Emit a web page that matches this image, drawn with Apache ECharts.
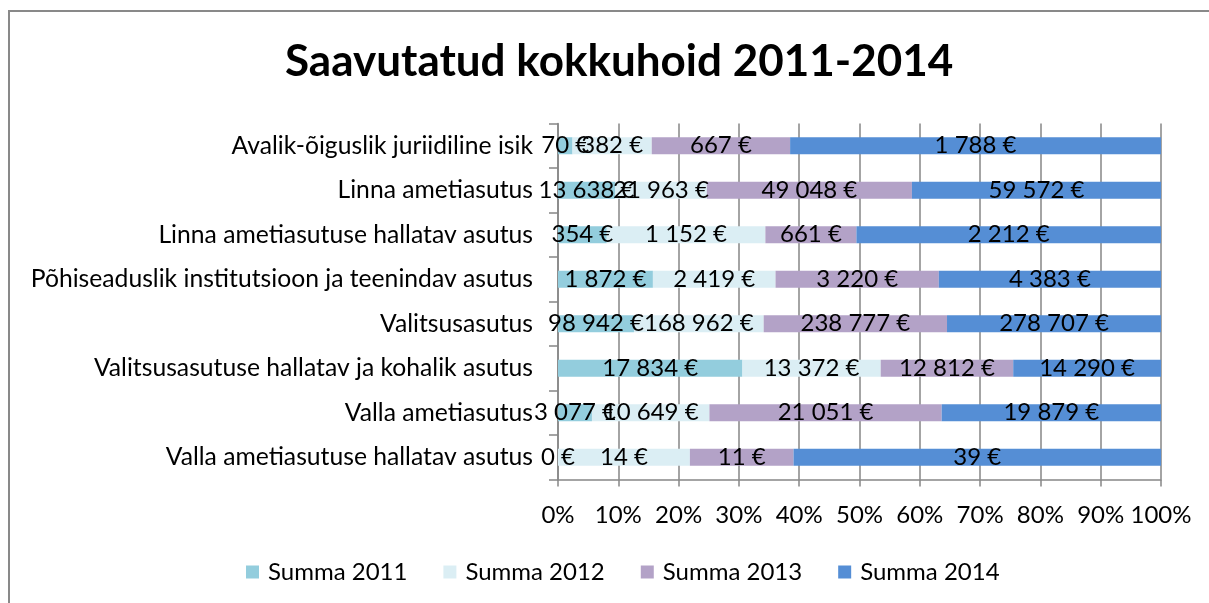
<!DOCTYPE html>
<html>
<head>
<meta charset="utf-8">
<script src="https://cdn.jsdelivr.net/npm/echarts@6/dist/echarts.min.js"></script>
<style>
html,body{margin:0;padding:0;background:#fff;}
#chart{width:1209px;height:603px;}
</style>
</head>
<body>
<div id="chart"></div>
<script>
const titleText = 'Saavutatud kokkuhoid 2011-2014';
const categories = [
  'Avalik-õiguslik juriidiline isik',
  'Linna ametiasutus',
  'Linna ametiasutuse hallatav asutus',
  'Põhiseaduslik institutsioon ja teenindav asutus',
  'Valitsusasutus',
  'Valitsusasutuse hallatav ja kohalik asutus',
  'Valla ametiasutus',
  'Valla ametiasutuse hallatav asutus'
];
const seriesNames = ['Summa 2011', 'Summa 2012', 'Summa 2013', 'Summa 2014'];
const summa2011 = [70, 13638, 354, 1872, 98942, 17834, 3077, 0];
const summa2012 = [382, 21963, 1152, 2419, 168962, 13372, 10649, 14];
const summa2013 = [667, 49048, 661, 3220, 238777, 12812, 21051, 11];
const summa2014 = [1788, 59572, 2212, 4383, 278707, 14290, 19879, 39];
const xTickLabels = ['0%','10%','20%','30%','40%','50%','60%','70%','80%','90%','100%'];
const colors = ['#93CDDD', '#DBEEF4', '#B3A2C7', '#558ED5'];

const raw = [summa2011, summa2012, summa2013, summa2014];
const totals = categories.map((c, i) => raw.reduce((s, arr) => s + arr[i], 0));

function fmt(v) {
  return String(v).replace(/\B(?=(\d{3})+(?!\d))/g, ' ') + ' €';
}

const FONT = 'Lato';
const chart = echarts.init(document.getElementById('chart'));
const series = raw.map((arr, k) => ({
  name: seriesNames[k],
  type: 'bar',
  stack: 'total',
  barWidth: 17,
  itemStyle: { color: colors[k] },
  label: {
    show: true,
    position: 'inside',
    color: '#000',
    fontFamily: FONT,
    fontSize: 24,
    formatter: p => fmt(arr[p.dataIndex])
  },
  emphasis: { disabled: true },
  data: arr.map((v, i) => v / totals[i] * 100)
}));

chart.setOption({
  animation: false,
  backgroundColor: '#fff',
  title: {
    text: titleText,
    left: 280,
    top: 35,
    textStyle: { fontFamily: FONT, fontWeight: 'bold', fontSize: 44, color: '#000' }
  },
  legend: {
    data: seriesNames,
    left: 241,
    top: 555,
    itemWidth: 13,
    itemHeight: 13,
    itemGap: 36,
    icon: 'rect',
    textStyle: { fontFamily: FONT, fontSize: 24, color: '#000', padding: [0, 0, 0, 4] }
  },
  grid: { left: 558, right: 48, top: 123.5, bottom: 123.5, containLabel: false },
  xAxis: {
    type: 'value',
    min: 0,
    max: 100,
    interval: 10,
    axisLine: { show: true, lineStyle: { color: '#868686', width: 1.5 } },
    axisTick: { show: true, length: 7, lineStyle: { color: '#868686', width: 1.5 } },
    splitLine: { show: true, lineStyle: { color: '#868686', width: 1.5 } },
    axisLabel: {
      margin: 24,
      fontFamily: FONT, fontSize: 24, color: '#000',
      formatter: v => xTickLabels[Math.round(v / 10)]
    }
  },
  yAxis: {
    type: 'category',
    inverse: true,
    data: categories,
    axisLine: { show: true, lineStyle: { color: '#868686', width: 1.5 } },
    axisTick: { show: true, length: 9, lineStyle: { color: '#868686', width: 1.5 } },
    axisLabel: { margin: 25, fontFamily: FONT, fontSize: 24.7, color: '#000' }
  },
  graphic: [{
    type: 'rect',
    shape: { x: 9, y: 11, width: 1400, height: 800 },
    style: { fill: 'none', stroke: '#898989', lineWidth: 2 },
    silent: true,
    z: 100
  }],
  series: series
});
</script>
</body>
</html>
